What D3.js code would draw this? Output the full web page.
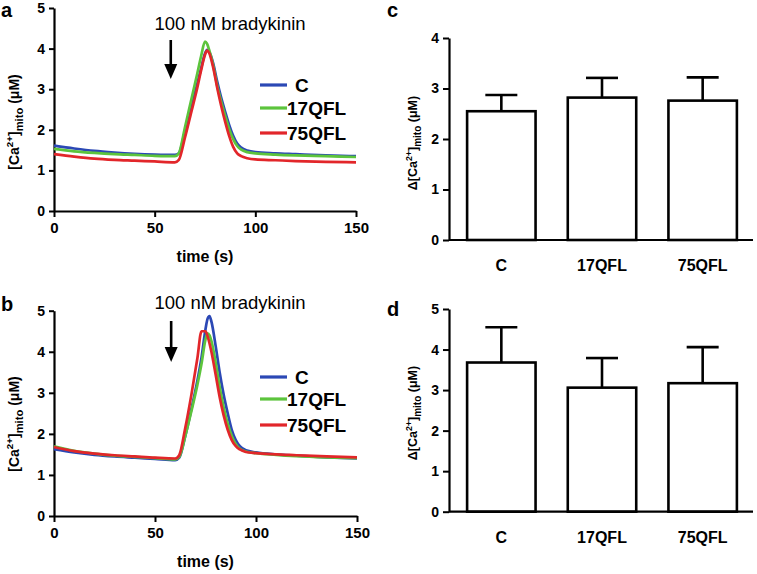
<!DOCTYPE html>
<html><head><meta charset="utf-8">
<script src="https://cdn.jsdelivr.net/npm/d3@7"></script>
<style>body{margin:0;background:#fff}svg{display:block}text{font-family:"Liberation Sans",Arial,sans-serif}</style>
</head><body>
<script>
// ---- data ----
const seriesNames = ["C", "17QFL", "75QFL"];
const seriesColors = ["#2b48b5", "#5cc43c", "#e2262a"];

const timeA = [0,10,20,30,40,50,60,62,65,68,71,73,75,76,77,79,81,83,85,87,89,91,93,96,100,110,120,135,150];
const aC     = [1.61,1.54,1.48,1.44,1.41,1.39,1.38,1.42,1.95,2.5,3.1,3.5,3.88,3.97,3.93,3.65,3.2,2.8,2.45,2.12,1.85,1.66,1.56,1.49,1.45,1.42,1.40,1.37,1.35];
const a17QFL = [1.53,1.47,1.43,1.40,1.38,1.36,1.35,1.42,2.05,2.7,3.35,3.8,4.17,4.12,3.98,3.6,3.1,2.7,2.35,2.02,1.77,1.6,1.51,1.45,1.42,1.39,1.37,1.35,1.33];
const a75QFL = [1.40,1.34,1.29,1.26,1.24,1.22,1.20,1.26,1.8,2.4,3.0,3.45,3.85,3.95,3.9,3.55,3.05,2.6,2.2,1.85,1.58,1.42,1.35,1.3,1.27,1.25,1.23,1.21,1.2];

const timeB = [0,10,20,30,40,50,60,62,65,68,71,73,75,76,77,78,80,82,84,86,88,90,92,95,100,110,120,135,150];
const bC     = [1.63,1.55,1.49,1.45,1.42,1.39,1.36,1.42,1.95,2.6,3.3,3.85,4.55,4.8,4.87,4.72,4.15,3.5,2.95,2.5,2.1,1.85,1.7,1.6,1.55,1.5,1.47,1.43,1.4];
const b17QFL = [1.70,1.59,1.52,1.47,1.44,1.41,1.38,1.44,1.95,2.55,3.2,3.7,4.3,4.45,4.4,4.25,3.75,3.15,2.65,2.25,1.95,1.75,1.64,1.57,1.53,1.49,1.46,1.43,1.41];
const b75QFL = [1.68,1.58,1.52,1.48,1.45,1.42,1.40,1.48,2.15,2.95,3.85,4.5,4.5,4.38,4.2,3.98,3.45,2.9,2.45,2.1,1.85,1.7,1.62,1.56,1.53,1.5,1.48,1.45,1.43];

const barCategories = ["C", "17QFL", "75QFL"];
const cMeans = [2.55, 2.82, 2.76];
const cErrTop = [2.87, 3.21, 3.22];
const dMeans = [3.68, 3.06, 3.17];
const dErrTop = [4.55, 3.79, 4.06];

const timeTicks = [0, 50, 100, 150];
const ticks0to5 = [0,1,2,3,4,5];
const ticks0to4 = [0,1,2,3,4];
const stimulusLabel = "100 nM bradykinin";
const stimulusTime = 58;

// ---- drawing ----
const svg = d3.select("body").append("svg").attr("width",757).attr("height",574);
const intFmt = d3.format("d");

function styleAxis(g, fs){
  g.selectAll("path.domain").attr("stroke","#000").attr("stroke-width",2.2);
  g.selectAll(".tick line").attr("stroke","#000").attr("stroke-width",2);
  g.selectAll(".tick text").attr("fill","#000").attr("font-weight","bold").attr("font-size",fs)
   .attr("font-family","'Liberation Sans',Arial,sans-serif");
}

function yLabel(x, y, fs, delta){
  const t = svg.append("text").attr("transform",`translate(${x},${y}) rotate(-90)`)
    .attr("text-anchor","middle").attr("font-weight","bold").attr("font-size",fs);
  t.append("tspan").text((delta?"Δ":"")+"[Ca");
  t.append("tspan").attr("dy",-fs*0.4).attr("font-size",fs*0.7).text("2+");
  t.append("tspan").attr("dy",fs*0.4).text("]");
  t.append("tspan").attr("dy",fs*0.3).attr("font-size",fs*0.8).text("mito");
  t.append("tspan").attr("dy",-fs*0.3).text(" (μM)");
}

function tracePanel(opts){
  const {t, series, x0, x1, yTop, yBot, letter, letterY, legendY, labelY, annY, arrowTop, arrowBot} = opts;
  const x = d3.scaleLinear().domain([0,150]).range([x0,x1]);
  const y = d3.scaleLinear().domain([0,5]).range([yBot,yTop]);
  const gx = svg.append("g").attr("transform",`translate(0,${yBot})`)
    .call(d3.axisBottom(x).tickValues(timeTicks).tickFormat(intFmt).tickSize(6).tickSizeOuter(0).tickPadding(5));
  styleAxis(gx,15);
  const gy = svg.append("g").attr("transform",`translate(${x0},0)`)
    .call(d3.axisLeft(y).tickValues(ticks0to5).tickFormat(intFmt).tickSize(5).tickSizeOuter(0).tickPadding(4));
  styleAxis(gy,14);
  const line = d3.line().x((d,i)=>x(t[i])).y(d=>y(d)).curve(d3.curveMonotoneX);
  series.forEach((s,k)=>{
    svg.append("path").datum(s).attr("d",line).attr("fill","none")
      .attr("stroke",seriesColors[k]).attr("stroke-width",2.7).attr("stroke-linejoin","round");
  });
  svg.append("text").attr("x",(x0+x1)/2).attr("y",yBot+51).attr("text-anchor","middle")
    .attr("font-weight","bold").attr("font-size",16).text("time (s)");
  yLabel(19, labelY, 14, false);
  svg.append("text").attr("x",1).attr("y",letterY).attr("font-weight","bold").attr("font-size",20).text(letter);
  // stimulus annotation
  const ax = x(stimulusTime);
  svg.append("text").attr("x",230).attr("y",annY).attr("text-anchor","middle")
    .attr("font-size",18.5).text(stimulusLabel);
  svg.append("line").attr("x1",ax).attr("x2",ax).attr("y1",arrowTop).attr("y2",arrowBot-12)
    .attr("stroke","#000").attr("stroke-width",2.6);
  svg.append("path").attr("d",`M${ax-6.5},${arrowBot-15}L${ax+6.5},${arrowBot-15}L${ax},${arrowBot}Z`).attr("fill","#000");
  // legend
  seriesNames.forEach((n,k)=>{
    const ly = legendY[k];
    svg.append("line").attr("x1",260).attr("x2",287).attr("y1",ly).attr("y2",ly)
      .attr("stroke",seriesColors[k]).attr("stroke-width",3.2);
    svg.append("text").attr("x",n==="C"?295:287).attr("y",ly+7).attr("font-weight","bold")
      .attr("font-size",19).text(n);
  });
}

tracePanel({t:timeA, series:[aC,a17QFL,a75QFL], x0:54, x1:356, yTop:8, yBot:211, letter:"a", letterY:17,
  legendY:[85,108,133], labelY:122, annY:30, arrowTop:40, arrowBot:79});
tracePanel({t:timeB, series:[bC,b17QFL,b75QFL], x0:54, x1:357, yTop:310.7, yBot:516, letter:"b", letterY:311,
  legendY:[377,399,425], labelY:424, annY:309, arrowTop:321, arrowBot:362});

function barPanel(opts){
  const {means, errTop, yMax, ticks, yTop, yBot, letter, letterY, labelY} = opts;
  const x = d3.scaleBand().domain(barCategories).range([451,753]).paddingInner(0.32).paddingOuter(0.16);
  const y = d3.scaleLinear().domain([0,yMax]).range([yBot,yTop]);
  const g = svg.append("g");
  barCategories.forEach((c,i)=>{
    const cx = x(c)+x.bandwidth()/2;
    g.append("line").attr("x1",cx).attr("x2",cx).attr("y1",y(means[i])).attr("y2",y(errTop[i]))
      .attr("stroke","#000").attr("stroke-width",2.6);
    g.append("line").attr("x1",cx-16).attr("x2",cx+16).attr("y1",y(errTop[i])).attr("y2",y(errTop[i]))
      .attr("stroke","#000").attr("stroke-width",2.6);
    g.append("rect").attr("x",x(c)).attr("y",y(means[i])).attr("width",x.bandwidth())
      .attr("height",yBot-y(means[i])).attr("fill","#fff").attr("stroke","#000").attr("stroke-width",2.6);
  });
  const gx = svg.append("g").attr("transform",`translate(0,${yBot})`)
    .call(d3.axisBottom(x).tickSize(0).tickPadding(20));
  gx.select("path.domain").attr("d",`M449,0H753`);
  styleAxis(gx,16);
  const gy = svg.append("g").attr("transform",`translate(449,0)`)
    .call(d3.axisLeft(y).tickValues(ticks).tickFormat(intFmt).tickSize(6).tickSizeOuter(0).tickPadding(4));
  styleAxis(gy,14);
  yLabel(417, labelY, 12.5, true);
  svg.append("text").attr("x",387).attr("y",letterY).attr("font-weight","bold").attr("font-size",20).text(letter);
}

barPanel({means:cMeans, errTop:cErrTop, yMax:4, ticks:ticks0to4, yTop:38, yBot:240, letter:"c", letterY:17, labelY:143});
barPanel({means:dMeans, errTop:dErrTop, yMax:5, ticks:ticks0to5, yTop:309, yBot:511.7, letter:"d", letterY:316, labelY:413});
</script>
</body></html>
